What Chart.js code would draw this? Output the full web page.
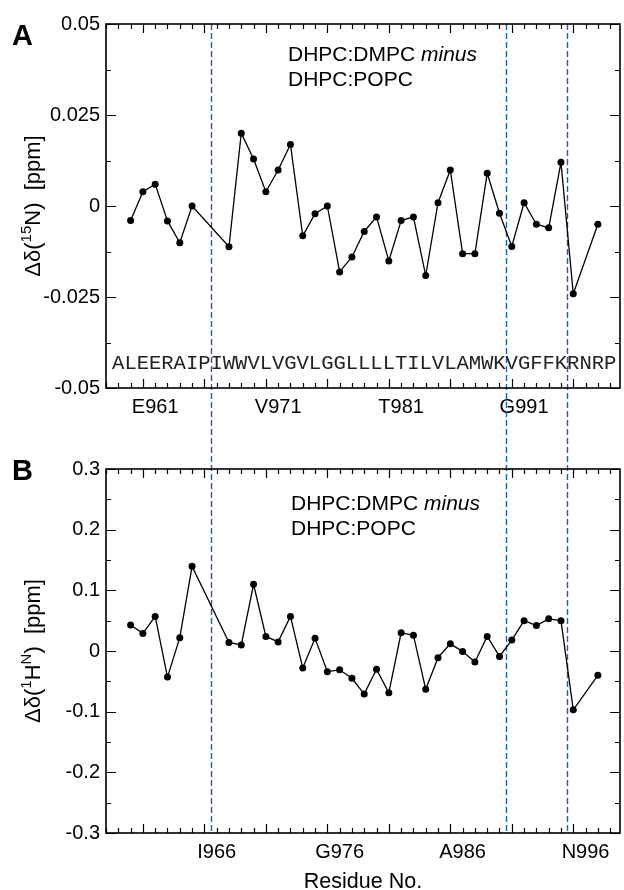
<!DOCTYPE html>
<html>
<head>
<meta charset="utf-8">
<script src="https://cdn.jsdelivr.net/npm/chart.js@4.4.0/dist/chart.umd.min.js"></script>
<style>
  html, body { margin: 0; padding: 0; background: #fff; }
  #wrap { position: relative; width: 624px; height: 890px; }
  .panel { position: absolute; left: 0; width: 624px; }
</style>
</head>
<body>
<div id="wrap">
  <div class="panel" style="top:0;height:420px"><canvas id="chartA"></canvas></div>
  <div class="panel" style="top:420px;height:470px"><canvas id="chartB"></canvas></div>
</div>
<script>
// residues with a measured value (P965, I966 and N996 are missing)
const residues = [959, 960, 961, 962, 963, 964,
  967, 968, 969, 970, 971, 972, 973, 974, 975, 976, 977, 978, 979, 980,
  981, 982, 983, 984, 985, 986, 987, 988, 989, 990, 991, 992, 993, 994, 995, 997];

const valuesN15 = [-0.004, 0.0039, 0.006, -0.0041, -0.0101, 0,
  -0.0112, 0.020, 0.0129, 0.0039, 0.0099, 0.0169, -0.0082, -0.0021, 0, -0.0181, -0.014, -0.007, -0.003, -0.0151,
  -0.004, -0.003, -0.0191, 0.0009, 0.0099, -0.0131, -0.0131, 0.009, -0.002, -0.0111, 0.0009, -0.005, -0.006, 0.012, -0.0241, -0.005];

const valuesH1 = [0.043, 0.029, 0.057, -0.043, 0.022, 0.1395,
  0.014, 0.010, 0.110, 0.024, 0.015, 0.057, -0.028, 0.021, -0.034, -0.031, -0.045, -0.071, -0.030, -0.069,
  0.030, 0.026, -0.063, -0.011, 0.012, -0.001, -0.018, 0.024, -0.009, 0.018, 0.050, 0.042, 0.053, 0.050, -0.097, -0.040];

const sequence = 'ALEERAIPIWWVLVGVLGGLLLLTILVLAMWKVGFFKRNRP';
const seqStart = 958;
const boundaries = [965.5, 989.5, 994.5];

const xLabelsA = ['E961', 'V971', 'T981', 'G991'];
const xLabelsB = ['I966', 'G976', 'A986', 'N996'];
const yLabelsA = ['-0.05', '-0.025', '0', '0.025', '0.05'];
const yLabelsB = ['-0.3', '-0.2', '-0.1', '0', '0.1', '0.2', '0.3'];

const SANS = '"Liberation Sans", Arial, Helvetica, sans-serif';

function drawRich(ctx, parts, cx, cy) {
  // rotated axis title with superscripts
  let w = 0;
  parts.forEach(p => { ctx.font = (p.sup ? '15px ' : '22px ') + SANS; w += ctx.measureText(p.t).width; });
  ctx.save();
  ctx.translate(cx, cy);
  ctx.rotate(-Math.PI / 2);
  ctx.textBaseline = 'alphabetic';
  ctx.textAlign = 'left';
  let x = -w / 2;
  parts.forEach(p => {
    ctx.font = (p.sup ? '15px ' : '22px ') + SANS;
    ctx.fillText(p.t, x, p.sup ? -1 : 8);
    x += ctx.measureText(p.t).width;
  });
  ctx.restore();
}

const frame = {
  id: 'frame',
  beforeDatasetsDraw(chart, args, o) {
    const ctx = chart.ctx, xs = chart.scales.x, a = chart.chartArea;
    ctx.save();
    ctx.strokeStyle = '#1f5fb0';
    ctx.lineWidth = 1.4;
    ctx.setLineDash([6, 3]);
    boundaries.forEach(b => {
      const px = Math.round(xs.getPixelForValue(b)) + 0.5;
      ctx.beginPath();
      ctx.moveTo(px, o.lineTop === 'top' ? a.top : 0);
      ctx.lineTo(px, o.lineTop === 'top' ? chart.height : a.bottom);
      ctx.stroke();
    });
    ctx.restore();
  },
  afterDraw(chart, args, o) {
    const ctx = chart.ctx, xs = chart.scales.x, ys = chart.scales.y, a = chart.chartArea;
    ctx.save();
    ctx.strokeStyle = '#000';
    ctx.lineWidth = 1.6;
    ctx.strokeRect(a.left, a.top, a.right - a.left, a.bottom - a.top);
    ctx.lineWidth = 1.2;
    ctx.beginPath();
    for (let v = Math.ceil(xs.min); v <= xs.max; v++) {
      const px = Math.round(xs.getPixelForValue(v)) + 0.5;
      const len = v % 5 === 0 ? 9 : 5;
      ctx.moveTo(px, a.bottom); ctx.lineTo(px, a.bottom - len);
      ctx.moveTo(px, a.top); ctx.lineTo(px, a.top + len);
    }
    const n = Math.round((ys.max - ys.min) / o.yMinor);
    for (let i = 0; i <= n; i++) {
      const py = Math.round(ys.getPixelForValue(ys.min + i * o.yMinor)) + 0.5;
      const len = i % 2 === 0 ? 10 : 5;
      ctx.moveTo(a.left, py); ctx.lineTo(a.left + len, py);
      ctx.moveTo(a.right, py); ctx.lineTo(a.right - len, py);
    }
    ctx.stroke();

    ctx.fillStyle = '#000';
    ctx.font = 'bold 29px ' + SANS;
    ctx.textAlign = 'left';
    ctx.textBaseline = 'alphabetic';
    ctx.fillText(o.panel, 12, o.panelY);

    ctx.font = '21px ' + SANS;
    const t1 = 'DHPC:DMPC ';
    ctx.fillText(t1, o.noteX, o.noteY);
    const w1 = ctx.measureText(t1).width;
    ctx.font = 'italic 21px ' + SANS;
    ctx.fillText('minus', o.noteX + w1, o.noteY);
    ctx.font = '21px ' + SANS;
    ctx.fillText('DHPC:POPC', o.noteX, o.noteY + 25);

    drawRich(ctx, o.yTitle, 32, (a.top + a.bottom) / 2);

    if (o.showSeq) {
      ctx.font = '20.6px "Liberation Mono", "Courier New", monospace';
      ctx.fillStyle = '#222';
      ctx.textAlign = 'center';
      for (let i = 0; i < sequence.length; i++) {
        ctx.fillText(sequence[i], xs.getPixelForValue(seqStart + i), a.bottom - 19);
      }
    }
    if (o.xTitle) {
      ctx.fillStyle = '#000';
      ctx.font = '21.5px ' + SANS;
      ctx.textAlign = 'center';
      ctx.fillText(o.xTitle, (a.left + a.right) / 2, chart.height - 2);
    }
    ctx.restore();
  }
};

function makeChart(id, values, cfg) {
  return new Chart(document.getElementById(id), {
    type: 'line',
    data: {
      datasets: [{
        data: residues.map((r, i) => ({ x: r, y: values[i] })),
        borderColor: '#000',
        borderWidth: 1.3,
        pointRadius: 3.5,
        pointBackgroundColor: '#000',
        pointBorderWidth: 0,
        tension: 0
      }]
    },
    options: {
      responsive: true,
      maintainAspectRatio: false,
      animation: false,
      layout: { padding: { top: cfg.padTop, right: 1, left: 0, bottom: 0 } },
      plugins: { legend: { display: false }, tooltip: { enabled: false }, frame: cfg },
      scales: {
        x: {
          type: 'linear', min: 957, max: 998.8,
          grid: { display: false, drawTicks: false },
          border: { display: false },
          afterBuildTicks: s => { s.ticks = cfg.xLabels.map(l => ({ value: parseInt(l.slice(1)) })); },
          afterFit: s => { s.height = cfg.xAxisH; },
          ticks: {
            autoSkip: false, maxRotation: 0, padding: 7, color: '#000',
            font: { family: SANS, size: 20 },
            callback: (v, i) => cfg.xLabels[i]
          }
        },
        y: {
          min: cfg.yMin, max: cfg.yMax,
          grid: { display: false, drawTicks: false },
          border: { display: false },
          afterBuildTicks: s => { s.ticks = cfg.yLabels.map(l => ({ value: parseFloat(l) })); },
          afterFit: s => { s.width = 106; },
          ticks: {
            autoSkip: false, padding: 6, color: '#000',
            font: { family: SANS, size: 20 },
            callback: (v, i) => cfg.yLabels[i]
          }
        }
      }
    },
    plugins: [frame]
  });
}

makeChart('chartA', valuesN15, {
  panel: 'A', panelY: 45, noteX: 288, noteY: 61, padTop: 24, xAxisH: 32,
  yMin: -0.05, yMax: 0.05, yMinor: 0.0125, xLabels: xLabelsA, yLabels: yLabelsA,
  lineTop: 'top', showSeq: true,
  yTitle: [{ t: 'Δδ(' }, { t: '15', sup: true }, { t: 'N)  [ppm]' }]
});

makeChart('chartB', valuesH1, {
  panel: 'B', panelY: 60, noteX: 291, noteY: 90, padTop: 49, xAxisH: 57,
  yMin: -0.3, yMax: 0.3, yMinor: 0.05, xLabels: xLabelsB, yLabels: yLabelsB,
  lineTop: 'bottom', showSeq: false, xTitle: 'Residue No.',
  yTitle: [{ t: 'Δδ(' }, { t: '1', sup: true }, { t: 'H' }, { t: 'N', sup: true }, { t: ')  [ppm]' }]
});
</script>
</body>
</html>
